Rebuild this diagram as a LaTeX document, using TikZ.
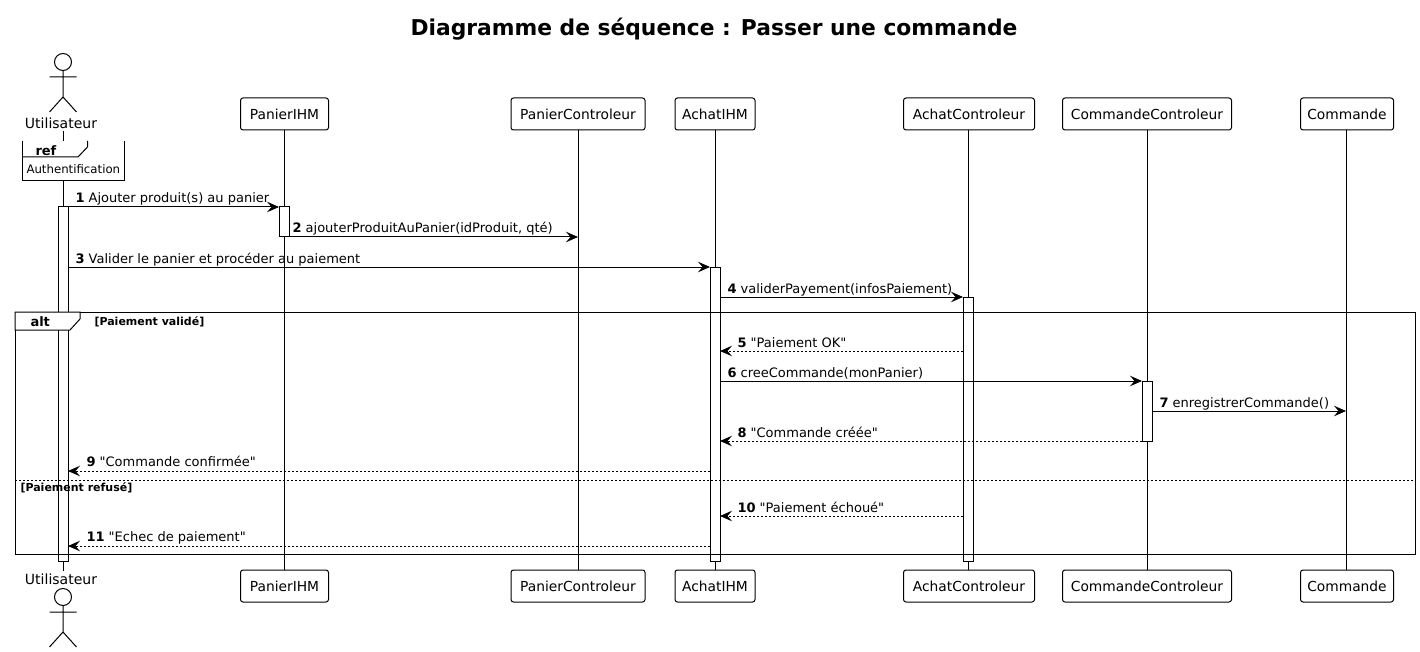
\documentclass[tikz,border=0pt]{standalone}
\usepackage{fontspec}
\setmainfont{DejaVu Sans}[Ligatures=TeXOff]
\usetikzlibrary{arrows.meta}
\tikzset{
  x=1pt,y=-1pt,
  every path/.style={line width=1pt},
  line/.style={draw=black,line width=1pt},
  part/.style={draw=black,line width=1pt,fill=white,rounded corners=2.5pt,minimum height=32pt,inner sep=0pt,outer sep=0pt,font=\fontsize{13.8pt}{16pt}\selectfont},
  actorlabel/.style={inner sep=1pt,font=\fontsize{14pt}{16pt}\selectfont},
  bar/.style={draw=black,fill=white,line width=1pt,inner sep=0pt,outer sep=0pt},
  msg/.style={line width=1pt,-{Stealth[length=12pt,width=10.5pt,inset=4.5pt]}},
  ret/.style={msg,dash pattern=on 2pt off 2pt},
  mlabel/.style={anchor=base west,inner sep=0pt,font=\fontsize{13pt}{15pt}\selectfont},
  glabel/.style={anchor=base west,inner sep=0pt,font=\fontsize{11pt}{12pt}\selectfont\bfseries},
}
\newcommand{\actorfig}[2]{% head centre y, x
  \draw[line] (#2,#1) circle (8.5);
  \draw[line] (#2,#1+8.5) -- (#2,#1+35) (#2-13.5,#1+15) -- (#2+13.5,#1+15)
     (#2-13.5,#1+50) -- (#2,#1+35) -- (#2+13.5,#1+50);
}
\begin{document}
\begin{tikzpicture}
\useasboundingbox[fill=white] (0,0) rectangle (1420,652);
% participants (top)
\node[actorlabel] (uT) at (61,123) {Utilisateur};
\node[part,minimum width=88pt] (pT) at (284.5,114) {PanierIHM};
\node[part,minimum width=134pt] (cT) at (578,114) {PanierControleur};
\node[part,minimum width=80pt] (aT) at (715,114) {AchatIHM};
\node[part,minimum width=131pt] (dT) at (969,114) {AchatControleur};
\node[part,minimum width=169pt] (eT) at (1147,114) {CommandeControleur};
\node[part,minimum width=93pt] (fT) at (1347,114) {Commande};
% participants (bottom)
\node[actorlabel] (uB) at (61,579) {Utilisateur};
\node[part,minimum width=88pt] (pB) at (284.5,586) {PanierIHM};
\node[part,minimum width=134pt] (cB) at (578,586) {PanierControleur};
\node[part,minimum width=80pt] (aB) at (715,586) {AchatIHM};
\node[part,minimum width=131pt] (dB) at (969,586) {AchatControleur};
\node[part,minimum width=169pt] (eB) at (1147,586) {CommandeControleur};
\node[part,minimum width=93pt] (fB) at (1347,586) {Commande};
% lifelines
\coordinate (uTop) at (63,131); \coordinate (uRefTop) at (63,141);
\coordinate (uBot) at (63,571);
\draw[line] (uTop) -- (uRefTop);
\draw[line] (63,181) -- (uBot);
\draw[line] (284,130) -- (284,570);
\draw[line] (578,130) -- (578,570);
\draw[line] (715,130) -- (715,570);
\draw[line] (968,130) -- (968,570);
\draw[line] (1147,130) -- (1147,570);
\draw[line] (1346,130) -- (1346,570);
% actors
\actorfig{62}{63}
\actorfig{597}{63}
% activation bars
\node[bar,minimum width=10pt,minimum height=354pt] (b1) at (63,384) {};
\node[bar,minimum width=10pt,minimum height=30pt] (b2) at (284,222) {};
\node[bar,minimum width=10pt,minimum height=294pt] (b3) at (715,414) {};
\node[bar,minimum width=10pt,minimum height=264pt] (b4) at (968,429) {};
\node[bar,minimum width=10pt,minimum height=60pt] (b5) at (1147,411) {};
% ref frame
\path[fill=white] (22,141) rectangle (124,181);
\draw[line] (87.5,141) -- (87.5,147) -- (78,157) -- (22,157);
\draw[line] (22,141) -- (22,181) -- (124,181) -- (124,141);
\node[anchor=base west,inner sep=0,font=\fontsize{13pt}{15pt}\selectfont\bfseries] (refL) at (35,156) {ref};
\node[anchor=base west,inner sep=0,font=\fontsize{11.75pt}{13pt}\selectfont] (refT) at (26,174) {Authentification};
% alt frame
\draw[line] (15,312) rectangle (1415,554);
\draw[line,fill=white] (15,312) -- (80,312) -- (80,319) -- (70,330) -- (15,330) -- cycle;
\node[anchor=base west,inner sep=0,font=\fontsize{13pt}{15pt}\selectfont\bfseries] (altL) at (30,326) {alt};
\node[glabel] (g1) at (94,325) {[Paiement validé]};
\draw[line,dash pattern=on 2pt off 2pt] (15,480.5) -- (1415,480.5);
\node[glabel] (g2) at (20,491) {[Paiement refusé]};
% messages
\draw[msg] (b1.north) -- (b2.north west);
\draw[msg] (b2.south east) -- (b2.south -| 578,0);
\draw[msg] (b1.east |- b3.north) -- (b3.north west);
\draw[msg] (b3.east |- b4.north) -- (b4.north west);
\draw[ret] (b4.west |- 0,351) -- (b3.east |- 0,351);
\draw[msg] (b3.east |- b5.north) -- (b5.north west);
\draw[msg] (b5.east) -- (b5.east -| 1346,0);
\draw[ret] (b5.south west) -- (b3.east |- b5.south);
\draw[ret] (b3.west |- 0,471) -- (b1.east |- 0,471);
\draw[ret] (b4.west |- 0,516) -- (b3.east |- 0,516);
\draw[ret] (b3.west |- 0,546) -- (b1.east |- 0,546);
% labels
\node[mlabel] (l1) at (75,203) {\textbf{1} Ajouter produit(s) au panier};
\node[mlabel] (l2) at (292,233) {\textbf{2} ajouterProduitAuPanier(idProduit, qté)};
\node[mlabel] (l3) at (75,263) {\textbf{3} Valider le panier et procéder au paiement};
\node[mlabel] (l4) at (727,293) {\textbf{4} validerPayement(infosPaiement)};
\node[mlabel] (l5) at (737,347) {\textbf{5} "Paiement OK"};
\node[mlabel] (l6) at (727,377) {\textbf{6} creeCommande(monPanier)};
\node[mlabel] (l7) at (1159,407) {\textbf{7} enregistrerCommande()};
\node[mlabel] (l8) at (737,437) {\textbf{8} "Commande créée"};
\node[mlabel] (l9) at (86,466) {\textbf{9} "Commande confirmée"};
\node[mlabel] (l10) at (737,512) {\textbf{10} "Paiement échoué"};
\node[mlabel] (l11) at (86,541) {\textbf{11} "Echec de paiement"};
% title
\node[inner sep=0,font=\fontsize{21.8pt}{26pt}\selectfont\bfseries] (title) at (714,29.5) {Diagramme de séquence : Passer une commande};
\end{tikzpicture}
\end{document}
